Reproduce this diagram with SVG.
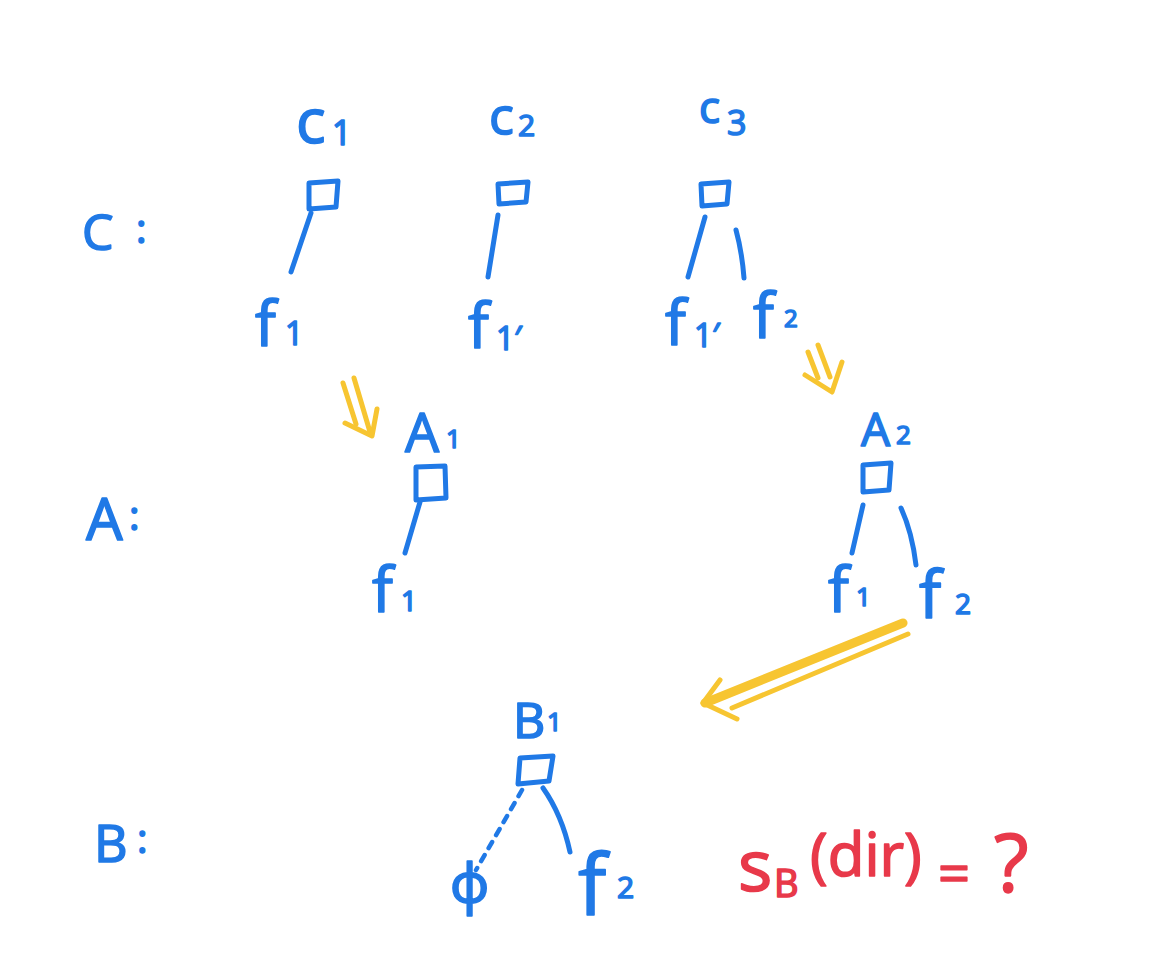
<svg xmlns="http://www.w3.org/2000/svg" width="1163" height="972" viewBox="0 0 1163 972">
<style>
.t{font-family:"Open Sans","Noto Sans","DejaVu Sans",sans-serif;fill:#2079e6;stroke:#2079e6;stroke-width:1.6;stroke-linejoin:round}
.r{font-family:"Open Sans","Noto Sans","DejaVu Sans",sans-serif;fill:#e8394a;stroke:#e8394a;stroke-width:1.6;stroke-linejoin:round}
.box{fill:none;stroke:#2079e6;stroke-width:5;stroke-linejoin:round;stroke-linecap:round}
.e{fill:none;stroke:#2079e6;stroke-width:5;stroke-linecap:round}
.d{fill:none;stroke:#2079e6;stroke-width:4.5;stroke-linecap:round;stroke-dasharray:7 8}
.y{fill:none;stroke:#f7c531;stroke-width:5;stroke-linecap:round;stroke-linejoin:round}
.yb{fill:none;stroke:#f7c531;stroke-width:9;stroke-linecap:round}
</style>
<rect width="1163" height="972" fill="#ffffff"/>

<g id="row-labels">
  <text class="t" x="82" y="250" font-size="50">C</text>
  <text class="t" x="136" y="243" font-size="40">:</text>
  <text class="t" x="86" y="540" font-size="58">A</text>
  <text class="t" x="129" y="530" font-size="40">:</text>
  <text class="t" x="94" y="862" font-size="52">B</text>
  <text class="t" x="137" y="853" font-size="40">:</text>
</g>

<g id="c1">
  <text class="t" x="296" y="143" font-size="62">c<tspan x="332" y="145" font-size="34">1</tspan></text>
  <path class="box" d="M309,183 L338,181 L336,207 L309,209 Z"/>
</g>
<g id="c2">
  <text class="t" x="489" y="134" font-size="52">c<tspan x="518" y="136" font-size="30">2</tspan></text>
  <path class="box" d="M498,184 L528,182 L526,202 L499,204 Z"/>
</g>
<g id="c3">
  <text class="t" x="699" y="123" font-size="44">c<tspan x="727" y="135" font-size="34">3</tspan></text>
  <path class="box" d="M701,184 L729,182 L727,204 L702,206 Z"/>
</g>
<g id="c1-f1">
  <text class="t" x="255" y="346" font-size="62">f<tspan x="285" y="345" font-size="32">1</tspan></text>
</g>
<g id="c2-f1p">
  <text class="t" x="468" y="348" font-size="62">f<tspan x="496" y="350" font-size="32">1′</tspan></text>
</g>
<g id="c3-f1p">
  <text class="t" x="665" y="345" font-size="62">f<tspan x="694" y="347" font-size="32">1′</tspan></text>
</g>
<g id="c3-f2">
  <text class="t" x="753" y="338" font-size="62">f<tspan x="784" y="327" font-size="24">2</tspan></text>
</g>

<g id="a1">
  <text class="t" x="405" y="452" font-size="54">A<tspan x="446" y="448" font-size="26">1</tspan></text>
  <path class="box" d="M416,467 L445,466 L446,498 L416,500 Z"/>
</g>
<g id="a1-f1">
  <text class="t" x="372" y="612" font-size="62">f<tspan x="401" y="611" font-size="28">1</tspan></text>
</g>
<g id="a2">
  <text class="t" x="861" y="446" font-size="46">A<tspan x="896" y="444" font-size="26">2</tspan></text>
  <path class="box" d="M863,465 L891,463 L889,490 L863,492 Z"/>
</g>
<g id="a2-f1">
  <text class="t" x="828" y="612" font-size="62">f<tspan x="856" y="606" font-size="26">1</tspan></text>
</g>
<g id="a2-f2">
  <text class="t" x="919" y="618" font-size="66">f<tspan x="955" y="614" font-size="28">2</tspan></text>
</g>

<g id="b1">
  <text class="t" x="513" y="738" font-size="50">B<tspan x="547" y="731" font-size="26">1</tspan></text>
  <path class="box" d="M520,758 L553,756 L549,781 L518,784 Z"/>
</g>
<g id="b1-phi">
  <text class="t" x="450" y="903" font-size="54">ϕ</text>
</g>
<g id="b1-f2">
  <text class="t" x="578" y="915" font-size="84">f<tspan x="617" y="898" font-size="30">2</tspan></text>
</g>

<g id="formula">
  <text class="r" x="738" y="891" font-size="72">s</text>
  <text class="r" x="774" y="897" font-size="38">B</text>
  <text class="r" x="810" y="876" font-size="60">(dir)</text>
  <text class="r" x="938" y="893" font-size="56">=</text>
  <text class="r" x="994" y="892" font-size="80">?</text>
</g>

<g id="connectors">
  <path class="e" d="M311,213 L291,272"/>
  <path class="e" d="M498,215 L488,277"/>
  <path class="e" d="M705,217 L688,277"/>
  <path class="e" d="M736,230 Q742,252 744,278"/>
  <path class="e" d="M420,502 L405,553"/>
  <path class="e" d="M863,505 L852,553"/>
  <path class="e" d="M901,508 Q912,532 916,565"/>
  <path class="d" d="M522,790 L476,870"/>
  <path class="e" d="M543,788 Q562,815 570,852"/>

  <g id="arrow-c1-a1">
    <path class="y" d="M343,383 L356,424"/>
    <path class="y" d="M354,378 L370,432"/>
    <path class="y" d="M345,423 L372,436 L377,409"/>
  </g>
  <g id="arrow-c3-a2">
    <path class="y" d="M808,352 L818,378"/>
    <path class="y" d="M818,345 L830,377"/>
    <path class="y" d="M805,375 L832,392 L842,362"/>
  </g>
  <g id="arrow-a2-b1">
    <path class="yb" d="M903,623 L705,703"/>
    <path class="y" d="M908,634 L732,708"/>
    <path class="y" d="M720,680 L703,703 L737,719"/>
  </g>
</g>
</svg>
